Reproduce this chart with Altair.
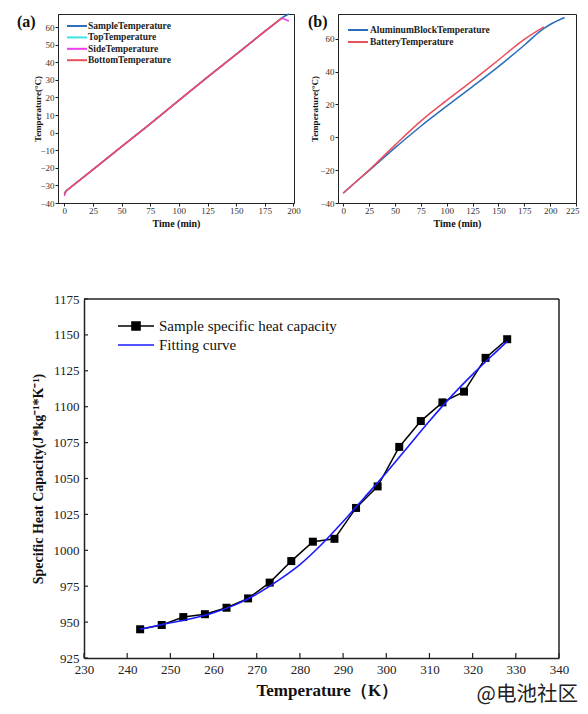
import altair as alt
import pandas as pd

# ---------------- panel (a) ----------------
a_series = ["SampleTemperature", "TopTemperature", "SideTemperature", "BottomTemperature"]
a_colors = ["#2f6fba", "#3fe3e3", "#ee3cee", "#ea4f5c"]
a_sample_t = [0, 1.5, 25, 50, 75, 100, 125, 150, 175, 190, 193, 196]
a_sample_v = [-34.5, -33.2, -21.0, -8.0, 5.0, 18.3, 31.5, 44.5, 57.5, 65.2, 66.4, 67.4]
a_top_t = [0, 1.5, 25, 50, 75, 100, 125, 150, 175, 190]
a_top_v = [-34.8, -33.2, -21.0, -8.0, 5.0, 18.3, 31.5, 44.5, 57.5, 65.2]
a_side_t = [0, 1.5, 25, 50, 75, 100, 125, 150, 175, 190, 193, 196]
a_side_v = [-36.0, -33.3, -21.0, -8.0, 5.0, 18.3, 31.5, 44.5, 57.5, 65.0, 64.3, 63.4]
a_bottom_t = [0, 1.5, 25, 50, 75, 100, 125, 150, 175, 190]
a_bottom_v = [-35.0, -33.2, -21.0, -8.0, 5.0, 18.3, 31.5, 44.5, 57.5, 65.2]
a_xticks = [0, 25, 50, 75, 100, 125, 150, 175, 200]
a_yticks = [-40, -30, -20, -10, 0, 10, 20, 30, 40, 50, 60]

# ---------------- panel (b) ----------------
b_series = ["AluminumBlockTemperature", "BatteryTemperature"]
b_colors = ["#2a6ebb", "#ea4f5c"]
b_al_t = [0, 12, 25, 50, 75, 100, 125, 150, 175, 193, 200, 214]
b_al_v = [-34.0, -27.4, -20.3, -6.5, 6.7, 18.9, 30.8, 43.0, 56.0, 65.8, 68.6, 72.9]
b_bat_t = [0, 12, 25, 50, 75, 100, 125, 150, 175, 194]
b_bat_v = [-34.0, -27.2, -20.0, -4.8, 9.8, 22.4, 34.5, 47.0, 59.6, 67.2]
b_xticks = [0, 25, 50, 75, 100, 125, 150, 175, 200, 225]
b_yticks = [-40, -20, 0, 20, 40, 60]

# ---------------- bottom panel ----------------
c_series = ["Sample specific heat capacity", "Fitting curve"]
c_colors = ["#000000", "#1a1aff"]
c_T = [243, 248, 253, 258, 263, 268, 273, 278, 283, 288, 293, 298, 303, 308, 313, 318, 323, 328]
c_cp = [945, 948, 953.5, 955.5, 960, 966.5, 977.5, 992.5, 1006, 1008, 1029.5, 1044.5,
        1072, 1090, 1103, 1110.5, 1134, 1147]
fit_T = [243, 250, 255, 260, 265, 270, 275, 280, 285, 290, 295, 300, 305, 310, 315, 320, 325, 328]
fit_cp = [945, 949.5, 952.5, 956.5, 962, 969.5, 979, 990, 1004, 1020, 1037, 1054,
          1072, 1090, 1107, 1122.5, 1137, 1145.5]
c_xticks = [230, 240, 250, 260, 270, 280, 290, 300, 310, 320, 330, 340]
c_yticks = [925, 950, 975, 1000, 1025, 1050, 1075, 1100, 1125, 1150, 1175]

SERIF = "Liberation Serif"
AX = "#222222"


def long_df(names, ts, vs):
    rows = []
    for n, tt, vv in zip(names, ts, vs):
        for t, v in zip(tt, vv):
            rows.append({"series": n, "t": t, "v": v})
    return pd.DataFrame(rows)


def small_legend(x, y, rowpad, offset):
    return alt.Legend(title=None, orient="none", legendX=x, legendY=y, padding=0,
                      symbolType="M-2.5,0L2.5,0", symbolSize=64, symbolStrokeWidth=2,
                      labelFont=SERIF, labelFontSize=9.5, labelFontWeight="bold", labelLimit=0,
                      labelColor="#222", labelOffset=offset, rowPadding=rowpad)


def x_axis_small(ticks, flush=False):
    extra = {"labelFlush": True, "labelFlushOffset": 3} if flush else {"labelFlush": False}
    return alt.Axis(values=ticks, title="Time (min)", titleFontSize=10, titleFontWeight="bold",
                    titleColor="#111", titlePadding=3, labelFontSize=9, labelColor="#333",
                    labelPadding=0.5, tickSize=3, tickColor=AX, domainColor=AX,
                    minExtent=12.5, maxExtent=12.5, labelOverlap=False, grid=False, **extra)


def y_axis_small(ticks, ext):
    return alt.Axis(values=ticks, title="Temperature(°C)", titleFontSize=9, titleFontWeight="bold",
                    titleColor="#111", titlePadding=3, labelFontSize=9, labelColor="#333",
                    labelPadding=1, tickSize=3, tickColor=AX, domainColor=AX,
                    minExtent=ext, maxExtent=ext, labelOverlap=False, grid=False)


# panel (a)
df_a = long_df(a_series, [a_sample_t, a_top_t, a_side_t, a_bottom_t],
               [a_sample_v, a_top_v, a_side_v, a_bottom_v])
lines_a = alt.Chart(df_a).mark_line(strokeWidth=1.5).encode(
    x=alt.X("t:Q", scale=alt.Scale(domain=[-5.5, 200.5], nice=False, zero=False), axis=x_axis_small(a_xticks)),
    y=alt.Y("v:Q", scale=alt.Scale(domain=[-40, 67.4], nice=False, zero=False), axis=y_axis_small(a_yticks, 13)),
    color=alt.Color("series:N", scale=alt.Scale(domain=a_series, range=a_colors),
                    legend=small_legend(14, 7, 1.4, 6)),
)
lab_a = alt.Chart(pd.DataFrame({"lab": ["(a)"]})).mark_text(
    font=SERIF, fontSize=16, fontWeight="bold", align="left", baseline="middle", color="#111"
).encode(text="lab:N", x=alt.value(-41), y=alt.value(7.5))
A = alt.layer(lines_a, lab_a).properties(
    width=236, height=189, view=alt.ViewBackground(stroke=AX, strokeWidth=1))

# panel (b)
df_b = long_df(b_series, [b_al_t, b_bat_t], [b_al_v, b_bat_v])
lines_b = alt.Chart(df_b).mark_line(strokeWidth=1.5, interpolate="monotone").encode(
    x=alt.X("t:Q", scale=alt.Scale(domain=[-5, 225], nice=False, zero=False),
            axis=x_axis_small(b_xticks, flush=True)),
    y=alt.Y("v:Q", scale=alt.Scale(domain=[-40, 75], nice=False, zero=False), axis=y_axis_small(b_yticks, 15.5)),
    color=alt.Color("series:N", scale=alt.Scale(domain=b_series, range=b_colors),
                    legend=small_legend(15, 11, 2, 7)),
)
lab_b = alt.Chart(pd.DataFrame({"lab": ["(b)"]})).mark_text(
    font=SERIF, fontSize=16, fontWeight="bold", align="left", baseline="middle", color="#111"
).encode(text="lab:N", x=alt.value(-30), y=alt.value(8))
B = alt.layer(lines_b, lab_b).properties(
    width=238, height=189, view=alt.ViewBackground(stroke=AX, strokeWidth=1))

# bottom panel: its plot area starts OFF px right of the panel origin
OFF = 26
W, H = 475, 359
xs = alt.Scale(domain=[230, 340], range=[OFF, OFF + W], nice=False, zero=False)
ys = alt.Scale(domain=[925, 1175], nice=False, zero=False)
x_axis_c = alt.Axis(values=c_xticks, title="Temperature（K）", titleFontSize=17, titleFontWeight="bold",
                    titleColor="#111", titlePadding=6, labelFontSize=13, labelColor="#222",
                    labelPadding=5.5, tickSize=0, domainColor=AX, domainWidth=1.5, format="d",
                    titleX=268.8,
                    minExtent=18.5, maxExtent=18.5, labelFlush=False, labelOverlap=False, grid=False)
y_axis_c = alt.Axis(values=c_yticks, title="Specific Heat Capacity(J*kg⁻¹*K⁻¹)", titleFontSize=14,
                    titleFontWeight="bold", titleColor="#111", titleX=-39, titleY=H / 2,
                    labelFontSize=13, labelColor="#222", labelPadding=5, tickSize=0, format="d",
                    domainColor=AX, domainWidth=1.5, offset=-OFF, minExtent=31, maxExtent=31,
                    labelOverlap=False, grid=False)

cscale = alt.Scale(domain=c_series, range=c_colors)
legend_paths = ["M-2,0H2M-0.45,-0.45H0.45V0.45H-0.45Z", "M-2,0H2"]
legend_fills = ["#000000", "transparent"]
big_legend = alt.Legend(
    title=None, orient="none", legendX=OFF + 42, legendY=17, padding=0, labelLimit=0,
    symbolSize=324, symbolStrokeWidth=1.5, symbolOpacity=1, labelFont=SERIF, labelFontSize=15,
    labelColor="#111", labelOffset=13, rowPadding=1,
)

df_fit = pd.DataFrame({"T": fit_T, "cp": fit_cp, "series": c_series[1]})
df_meas = pd.DataFrame({"T": c_T, "cp": c_cp, "series": c_series[0]})
df_key = pd.DataFrame({"T": [c_T[0], c_T[0]], "cp": [c_cp[0], c_cp[0]], "series": c_series})

X_C = alt.X("T:Q", scale=xs, axis=x_axis_c)
Y_C = alt.Y("cp:Q", scale=ys, axis=y_axis_c)

meas_line = alt.Chart(df_meas).mark_line(strokeWidth=1.5).encode(
    x=X_C, y=Y_C, stroke=alt.Stroke("series:N", scale=cscale, legend=big_legend))
fit_line = alt.Chart(df_fit).mark_line(strokeWidth=1.6, interpolate="monotone").encode(
    x=X_C, y=Y_C, stroke=alt.Stroke("series:N", scale=cscale, legend=big_legend))
squares = alt.Chart(df_meas).mark_square(size=64, filled=True, color="#000000", opacity=1).encode(
    x=X_C, y=Y_C)
key = alt.Chart(df_key).mark_point(opacity=0, size=324, strokeWidth=1.5).encode(
    x=X_C, y=Y_C,
    stroke=alt.Stroke("series:N", scale=cscale, legend=big_legend),
    fill=alt.Fill("series:N", scale=alt.Scale(domain=c_series, range=legend_fills), legend=big_legend),
    shape=alt.Shape("series:N", scale=alt.Scale(domain=c_series, range=legend_paths), legend=big_legend),
)

xt = alt.Chart(pd.DataFrame({"T": c_xticks})).mark_rule(color=AX, strokeWidth=1.2).encode(
    x=X_C, y=alt.value(H), y2=alt.value(H - 5))
yt = alt.Chart(pd.DataFrame({"cp": c_yticks})).mark_rule(color=AX, strokeWidth=1.2).encode(
    y=Y_C, x=alt.value(OFF), x2=alt.value(OFF + 4))

one = pd.DataFrame({"k": [0]})
frame_top = alt.Chart(one).mark_rule(color=AX, strokeWidth=1.5).encode(
    x=alt.value(OFF), x2=alt.value(OFF + W), y=alt.value(0))
frame_right = alt.Chart(one).mark_rule(color=AX, strokeWidth=1.5).encode(
    x=alt.value(OFF + W), y=alt.value(0), y2=alt.value(H))

wm = alt.Chart(pd.DataFrame({"w": ["@电池社区"]})).mark_text(
    font="Noto Sans CJK SC", fontSize=20.5, align="right", baseline="middle", color="#222"
).encode(text="w:N", x=alt.value(OFF + 494), y=alt.value(395.5))

C = alt.layer(meas_line, squares, fit_line, key, xt, yt, frame_top, frame_right, wm).properties(
    width=OFF + W, height=H, view=alt.ViewBackground(stroke="transparent"))

top = alt.hconcat(A, B, spacing=6).resolve_scale(color="independent")
chart = alt.vconcat(top, C, spacing=63).resolve_scale(
    color="independent", stroke="independent", fill="independent", shape="independent"
).properties(
    padding={"left": 8, "top": 2, "right": 0, "bottom": 0}
).configure(font=SERIF).configure_axis(labelFont=SERIF, titleFont=SERIF, labelOverlap=False)

chart.save("out.html", embed_options={"renderer": "svg", "actions": False})
